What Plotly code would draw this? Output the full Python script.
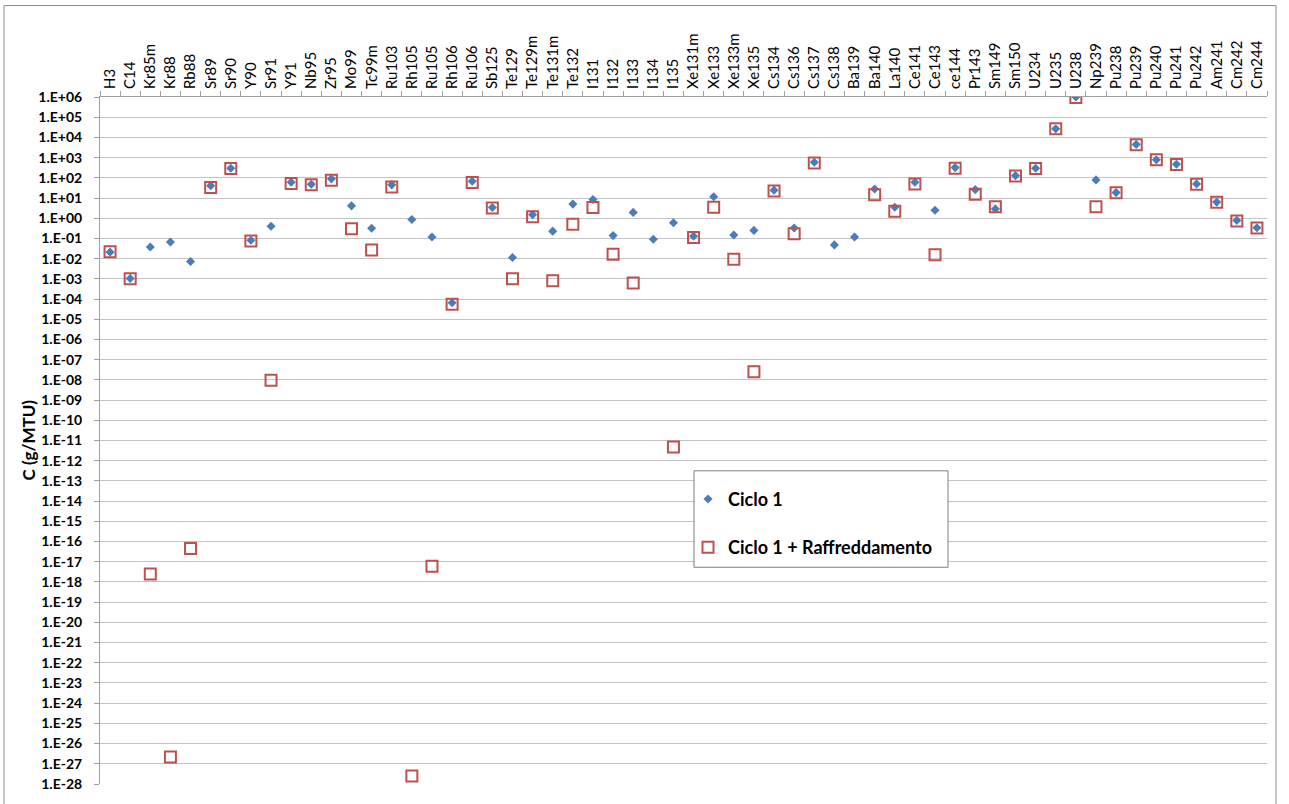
import plotly.graph_objects as go

# Nuclide inventory after cycle 1, with and without cooling (g/MTU)
nuclides = ["H3", "C14", "Kr85m", "Kr88", "Rb88", "Sr89", "Sr90", "Y90", "Sr91", "Y91",
            "Nb95", "Zr95", "Mo99", "Tc99m", "Ru103", "Rh105", "Ru105", "Rh106", "Ru106",
            "Sb125", "Te129", "Te129m", "Te131m", "Te132", "I131", "I132", "I133", "I134",
            "I135", "Xe131m", "Xe133", "Xe133m", "Xe135", "Cs134", "Cs136", "Cs137",
            "Cs138", "Ba139", "Ba140", "La140", "Ce141", "Ce143", "ce144", "Pr143",
            "Sm149", "Sm150", "U234", "U235", "U238", "Np239", "Pu238", "Pu239", "Pu240",
            "Pu241", "Pu242", "Am241", "Cm242", "Cm244"]

ciclo1 = [0.021, 1.05e-3, 0.038, 0.067, 7.2e-3, 41, 296, 0.081, 0.40, 60,
          48, 89, 4.1, 0.32, 45, 0.87, 0.118, 6.6e-5, 68,
          3.4, 0.0113, 1.49, 0.23, 5.0, 8.4, 0.138, 1.94, 0.091,
          0.60, 0.13, 11.5, 0.148, 0.25, 24.5, 0.33, 589,
          0.048, 0.117, 28, 3.5, 60, 2.5, 320, 26,
          2.9, 128, 296, 26500, 1.0e6, 79, 18.6, 4500, 790,
          470, 50, 6.3, 0.78, 0.34]

ciclo1_raffr = [0.022, 1.0e-3, 2.5e-18, 2.2e-27, 4.5e-17, 33, 290, 0.075, 9.5e-9, 52,
                46, 76, 0.30, 0.027, 35, 2.5e-28, 6.0e-18, 5.5e-5, 58,
                3.2, 1.0e-3, 1.17, 8.1e-4, 0.51, 3.4, 0.0165, 6.2e-4, None,
                4.8e-12, 0.112, 3.5, 9.3e-3, 2.5e-8, 22, 0.17, 540,
                None, None, 14.4, 2.2, 50, 0.0155, 300, 15.5,
                3.7, 123, 290, 26500, 9.5e5, 3.7, 18, 4300, 780,
                450, 48, 6.1, 0.72, 0.33]

exponents = list(range(6, -29, -1))
y_tickvals = [10.0 ** e for e in exponents]
y_ticktext = [f"1.E{'+' if e >= 0 else '-'}{abs(e):02d}" for e in exponents]

FONT = "Lato, 'Liberation Sans', Arial, sans-serif"
BLUE = "#4a7ebb"
RED = "#c0504d"
AXIS = "#a0a0a0"
GRID = "#c4c4c4"

W, H = 1289, 804
L, R, T, B = 100, 22, 97, 16
pw = W - L - R
ph = H - T - B


def px_x(x):
    """Pixel column -> paper x."""
    return (x - L) / pw


def px_y(y):
    """Pixel row -> paper y."""
    return 1 - (y - T) / ph


fig = go.Figure()
fig.add_trace(go.Scatter(
    x=nuclides, y=ciclo1, mode="markers", name="Ciclo 1",
    marker=dict(symbol="diamond", size=7, color=BLUE, line=dict(width=0)),
    legendgroup="a",
))
fig.add_trace(go.Scatter(
    x=nuclides, y=ciclo1_raffr, mode="markers", name="Ciclo 1 + Raffreddamento",
    marker=dict(symbol="square-open", size=11, color=RED, line=dict(width=2, color=RED)),
    legendgroup="b",
))

fig.update_layout(
    width=W, height=H,
    margin=dict(l=L, r=R, t=T, b=B, pad=0),
    paper_bgcolor="white", plot_bgcolor="white",
    font=dict(family=FONT, color="#000000"),
    showlegend=True,
    legend=dict(
        x=px_x(688), y=px_y(483), xanchor="left", yanchor="top",
        bgcolor="rgba(0,0,0,0)", borderwidth=0,
        font=dict(family=FONT, size=18, color="#000000", weight="bold"),
        tracegroupgap=22, itemwidth=30,
    ),
    xaxis=dict(
        type="category", side="top", tickangle=-90,
        tickfont=dict(family=FONT, size=15, color="#000000"),
        showgrid=False, showline=True, linecolor=AXIS, linewidth=1,
        ticks="outside", tickson="boundaries", ticklen=5, tickcolor=AXIS,
        ticklabelstandoff=4,
        range=[-0.5, len(nuclides) - 0.5], zeroline=False,
    ),
    yaxis=dict(
        type="log", range=[-28, 6],
        tickvals=y_tickvals, ticktext=y_ticktext,
        tickfont=dict(family=FONT, size=14, color="#000000", weight="bold"),
        showgrid=True, gridcolor=GRID, gridwidth=1,
        showline=True, linecolor=AXIS, linewidth=1,
        ticks="outside", ticklen=5, tickcolor=AXIS, ticklabelstandoff=9,
        zeroline=False,
    ),
    annotations=[dict(
        text="C (g/MTU)", textangle=-90, showarrow=False,
        xref="paper", yref="paper", x=px_x(28), y=0.5,
        xanchor="center", yanchor="middle",
        font=dict(family=FONT, size=17, color="#000000", weight="bold"),
    )],
    shapes=[
        # outer chart frame
        dict(type="rect", xref="paper", yref="paper",
             x0=px_x(4), x1=px_x(1276), y0=px_y(5), y1=px_y(H + 10),
             line=dict(color="#8c8c8c", width=1), fillcolor="rgba(0,0,0,0)", layer="below"),
        # legend box
        dict(type="rect", xref="paper", yref="paper",
             x0=px_x(694), x1=px_x(948), y0=px_y(473), y1=px_y(570),
             line=dict(color="#7f7f7f", width=1), fillcolor="white", layer="above"),
    ],
)

fig.write_html("out.html", config={"displayModeBar": False})
